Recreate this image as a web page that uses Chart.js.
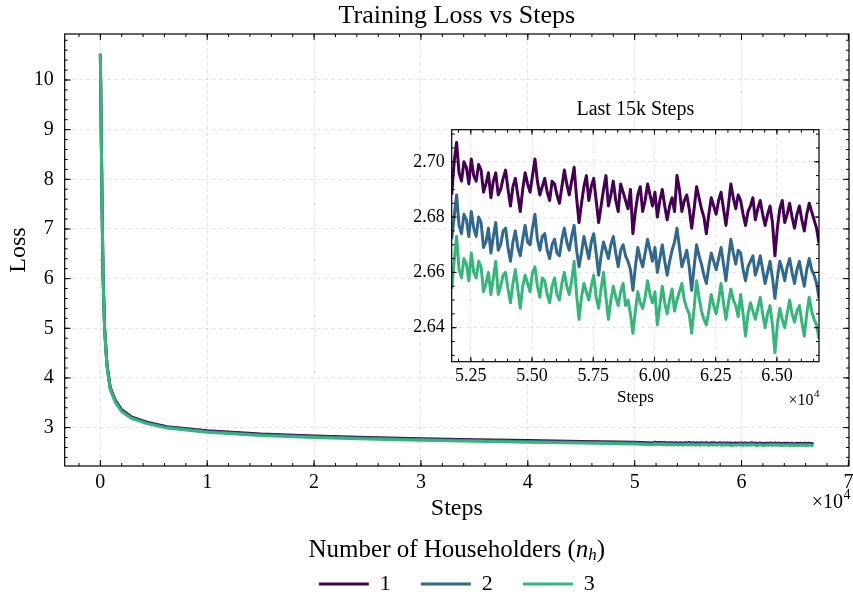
<!DOCTYPE html>
<html>
<head>
<meta charset="utf-8">
<script src="https://cdn.jsdelivr.net/npm/chart.js@4.4.1/dist/chart.umd.min.js"></script>
<style>
  html, body { margin: 0; padding: 0; background: #fff; }
  #wrap { position: relative; width: 853px; height: 596px; }
  #main { position: absolute; left: 0; top: 0; }
  #inset { position: absolute; left: 400px; top: 90px; }
</style>
</head>
<body>
<div id="wrap">
  <canvas id="main" width="853" height="596"></canvas>
  <canvas id="inset" width="453" height="330"></canvas>
</div>
<script>
// Séries : nombre de householders (n_h)
const householders = ['1', '2', '3'];
const colors = ['#440154', '#31688e', '#35b779'];

// Début de l'entraînement (décroissance rapide)
const earlySteps = [0, 150, 250, 400, 620, 930, 1400, 2000, 2960, 4360, 6230, 10000, 15000, 20000, 25000, 30000, 35000, 40000, 45000, 50000];
const earlyLoss1 = [10.53, 7.70, 6.10, 5.00, 4.27, 3.80, 3.55, 3.36, 3.21, 3.11, 3.02, 2.935, 2.87, 2.83, 2.80, 2.775, 2.755, 2.738, 2.722, 2.704];
const earlyLoss2 = [10.53, 7.68, 6.08, 4.98, 4.25, 3.78, 3.53, 3.34, 3.195, 3.095, 3.005, 2.92, 2.855, 2.815, 2.785, 2.76, 2.74, 2.722, 2.707, 2.688];
const earlyLoss3 = [10.52, 7.66, 6.06, 4.96, 4.23, 3.76, 3.51, 3.32, 3.18, 3.08, 2.99, 2.905, 2.84, 2.80, 2.77, 2.745, 2.725, 2.707, 2.692, 2.672];

// Derniers 15k steps (zoom)
const tailSteps = [
  51720, 51820, 51920, 52020, 52120, 52220, 52320, 52420, 52520, 52620,
  52720, 52820, 52920, 53020, 53120, 53220, 53320, 53420, 53520, 53620,
  53720, 53820, 53920, 54020, 54120, 54220, 54320, 54420, 54520, 54620,
  54720, 54820, 54920, 55020, 55120, 55220, 55320, 55420, 55520, 55620,
  55720, 55820, 55920, 56020, 56120, 56220, 56320, 56420, 56520, 56620,
  56720, 56820, 56920, 57020, 57120, 57220, 57320, 57420, 57520, 57620,
  57720, 57820, 57920, 58020, 58120, 58220, 58320, 58420, 58520, 58620,
  58720, 58820, 58920, 59020, 59120, 59220, 59320, 59420, 59520, 59620,
  59720, 59820, 59920, 60020, 60120, 60220, 60320, 60420, 60520, 60620,
  60720, 60820, 60920, 61020, 61120, 61220, 61320, 61420, 61520, 61620,
  61720, 61820, 61920, 62020, 62120, 62220, 62320, 62420, 62520, 62620,
  62720, 62820, 62920, 63020, 63120, 63220, 63320, 63420, 63520, 63620,
  63720, 63820, 63920, 64020, 64120, 64220, 64320, 64420, 64520, 64620,
  64720, 64820, 64920, 65020, 65120, 65220, 65320, 65420, 65520, 65620,
  65720, 65820, 65920, 66020, 66120, 66220, 66320, 66420, 66520, 66620,
  66720];
const tailLoss1 = [
  2.688, 2.700, 2.707, 2.696, 2.693, 2.700, 2.698, 2.692, 2.701, 2.695,
  2.693, 2.699, 2.697, 2.689, 2.692, 2.696, 2.687, 2.693, 2.696, 2.688,
  2.690, 2.694, 2.697, 2.690, 2.684, 2.691, 2.694, 2.688, 2.682, 2.690,
  2.696, 2.692, 2.689, 2.695, 2.701, 2.693, 2.688, 2.691, 2.694, 2.689,
  2.686, 2.693, 2.692, 2.688, 2.685, 2.691, 2.697, 2.692, 2.688, 2.693,
  2.698, 2.687, 2.678, 2.685, 2.691, 2.695, 2.686, 2.691, 2.694, 2.686,
  2.678, 2.684, 2.690, 2.695, 2.684, 2.688, 2.693, 2.686, 2.682, 2.692,
  2.689, 2.686, 2.683, 2.690, 2.674, 2.682, 2.688, 2.691, 2.682, 2.686,
  2.692, 2.688, 2.684, 2.689, 2.680, 2.686, 2.690, 2.684, 2.679, 2.684,
  2.687, 2.682, 2.695, 2.690, 2.682, 2.686, 2.688, 2.683, 2.676, 2.683,
  2.691, 2.687, 2.683, 2.680, 2.674, 2.681, 2.687, 2.684, 2.681, 2.686,
  2.689, 2.683, 2.677, 2.684, 2.692, 2.687, 2.683, 2.688, 2.686, 2.681,
  2.677, 2.682, 2.684, 2.687, 2.679, 2.683, 2.686, 2.681, 2.677, 2.681,
  2.684, 2.678, 2.666, 2.676, 2.683, 2.686, 2.678, 2.681, 2.685, 2.680,
  2.676, 2.681, 2.684, 2.679, 2.675, 2.681, 2.685, 2.682, 2.679, 2.676,
  2.6705];
const tailLoss2 = [
  2.672, 2.680, 2.688, 2.677, 2.674, 2.681, 2.679, 2.673, 2.682, 2.676,
  2.673, 2.680, 2.678, 2.669, 2.671, 2.676, 2.667, 2.673, 2.678, 2.668,
  2.670, 2.675, 2.676, 2.669, 2.664, 2.671, 2.675, 2.669, 2.666, 2.672,
  2.677, 2.671, 2.670, 2.676, 2.681, 2.672, 2.668, 2.673, 2.674, 2.668,
  2.665, 2.670, 2.672, 2.667, 2.666, 2.672, 2.676, 2.671, 2.668, 2.673,
  2.677, 2.668, 2.662, 2.667, 2.673, 2.669, 2.665, 2.671, 2.674, 2.667,
  2.659, 2.666, 2.671, 2.668, 2.665, 2.670, 2.673, 2.667, 2.662, 2.668,
  2.670, 2.666, 2.664, 2.661, 2.6535, 2.662, 2.669, 2.665, 2.662, 2.667,
  2.672, 2.668, 2.664, 2.669, 2.660, 2.665, 2.670, 2.664, 2.659, 2.664,
  2.668, 2.671, 2.676, 2.669, 2.662, 2.665, 2.668, 2.662, 2.6535, 2.662,
  2.670, 2.666, 2.663, 2.659, 2.656, 2.662, 2.667, 2.664, 2.661, 2.665,
  2.669, 2.663, 2.657, 2.665, 2.672, 2.667, 2.663, 2.668, 2.667, 2.661,
  2.657, 2.662, 2.664, 2.666, 2.659, 2.662, 2.666, 2.661, 2.656, 2.660,
  2.664, 2.658, 2.6506, 2.658, 2.664, 2.661, 2.657, 2.662, 2.665, 2.660,
  2.656, 2.661, 2.664, 2.659, 2.655, 2.661, 2.665, 2.661, 2.659, 2.656,
  2.6506];
const tailLoss3 = [
  2.654, 2.664, 2.673, 2.661, 2.658, 2.665, 2.663, 2.657, 2.667, 2.660,
  2.658, 2.664, 2.662, 2.653, 2.656, 2.660, 2.652, 2.658, 2.664, 2.652,
  2.655, 2.659, 2.660, 2.654, 2.649, 2.656, 2.661, 2.654, 2.647, 2.655,
  2.659, 2.656, 2.653, 2.660, 2.662, 2.655, 2.651, 2.658, 2.657, 2.652,
  2.649, 2.655, 2.658, 2.652, 2.650, 2.656, 2.660, 2.655, 2.652, 2.657,
  2.664, 2.652, 2.643, 2.651, 2.656, 2.653, 2.650, 2.655, 2.659, 2.651,
  2.647, 2.654, 2.660, 2.651, 2.643, 2.650, 2.655, 2.651, 2.648, 2.653,
  2.656, 2.648, 2.650, 2.645, 2.638, 2.646, 2.653, 2.649, 2.647, 2.651,
  2.657, 2.652, 2.649, 2.653, 2.641, 2.648, 2.655, 2.649, 2.645, 2.650,
  2.654, 2.646, 2.650, 2.653, 2.656, 2.650, 2.647, 2.645, 2.638, 2.647,
  2.657, 2.651, 2.646, 2.643, 2.641, 2.646, 2.652, 2.648, 2.645, 2.650,
  2.656, 2.649, 2.643, 2.649, 2.654, 2.650, 2.648, 2.644, 2.652, 2.645,
  2.637, 2.645, 2.649, 2.646, 2.643, 2.647, 2.651, 2.645, 2.640, 2.645,
  2.648, 2.641, 2.631, 2.641, 2.647, 2.643, 2.640, 2.645, 2.650, 2.645,
  2.642, 2.646, 2.648, 2.642, 2.637, 2.645, 2.651, 2.646, 2.643, 2.641,
  2.636];

// Graduations
const mainXTicks = [0, 10000, 20000, 30000, 40000, 50000, 60000, 70000];
const mainYTicks = [3, 4, 5, 6, 7, 8, 9, 10];
const insetXTicks = [52500, 55000, 57500, 60000, 62500, 65000];
const insetYTicks = [2.64, 2.66, 2.68, 2.70];

const serif = "'Liberation Serif', 'Times New Roman', serif";
Chart.defaults.font.family = serif;
Chart.defaults.color = '#000';

function toPoints(xs, ys) {
  return xs.map((x, i) => ({ x: x, y: ys[i] }));
}

const fullSteps = earlySteps.concat(tailSteps);
const fullLoss = [
  earlyLoss1.concat(tailLoss1),
  earlyLoss2.concat(tailLoss2),
  earlyLoss3.concat(tailLoss3)
];
const tailLoss = [tailLoss1, tailLoss2, tailLoss3];

const gridColor = 'rgba(0,0,0,0.13)';

// Cadre + graduations vers l'intérieur (style matplotlib)
const axisFrame = {
  id: 'axisFrame',
  beforeDraw(chart, args, opts) {
    if (!opts.fill) return;
    const a = chart.chartArea, ctx = chart.ctx;
    ctx.save();
    ctx.fillStyle = opts.fill;
    ctx.fillRect(a.left, a.top, a.right - a.left, a.bottom - a.top);
    ctx.restore();
  },
  afterDatasetsDraw(chart, args, opts) {
    const { ctx, chartArea: a, scales: { x, y } } = chart;
    ctx.save();
    ctx.strokeStyle = '#000';
    ctx.lineWidth = 1;
    ctx.beginPath();
    const tick = (px, isX, len) => {
      if (isX) {
        ctx.moveTo(px, a.bottom); ctx.lineTo(px, a.bottom - len);
        ctx.moveTo(px, a.top); ctx.lineTo(px, a.top + len);
      } else {
        ctx.moveTo(a.left, px); ctx.lineTo(a.left + len, px);
        ctx.moveTo(a.right, px); ctx.lineTo(a.right - len, px);
      }
    };
    for (let k = Math.ceil(x.min / opts.xMinor); k * opts.xMinor <= x.max; k++) {
      tick(x.getPixelForValue(k * opts.xMinor), true, opts.minorLen);
    }
    for (let k = Math.ceil(y.min / opts.yMinor - 1e-6); k * opts.yMinor <= y.max; k++) {
      tick(y.getPixelForValue(k * opts.yMinor), false, opts.minorLen);
    }
    x.ticks.forEach(t => tick(x.getPixelForValue(t.value), true, opts.majorLen));
    y.ticks.forEach(t => tick(y.getPixelForValue(t.value), false, opts.majorLen));
    ctx.stroke();
    ctx.lineWidth = 1.2;
    ctx.strokeRect(a.left, a.top, a.right - a.left, a.bottom - a.top);
    ctx.restore();
  }
};

// Texte "×10^4" et titre de légende avec n_h en italique
function drawOffset(ctx, right, cy, size) {
  ctx.save();
  ctx.fillStyle = '#000';
  ctx.textBaseline = 'middle';
  ctx.textAlign = 'left';
  ctx.font = size + 'px ' + serif;
  const w1 = ctx.measureText('\u00d710').width;
  const supSize = Math.round(size * 0.7);
  ctx.font = supSize + 'px ' + serif;
  const w2 = ctx.measureText('4').width;
  const x0 = right - w1 - w2;
  ctx.font = size + 'px ' + serif;
  ctx.fillText('\u00d710', x0, cy);
  ctx.font = supSize + 'px ' + serif;
  ctx.fillText('4', x0 + w1 + 0.5, cy - size * 0.4);
  ctx.restore();
}

const mainText = {
  id: 'mainText',
  afterDraw(chart) {
    const ctx = chart.ctx, a = chart.chartArea;
    drawOffset(ctx, a.right + 1, 503, 20);

    const size = 25, sub = 17;
    const parts = [
      { t: 'Number of Householders (', f: size + 'px ' + serif, dy: 0 },
      { t: 'n', f: 'italic ' + size + 'px ' + serif, dy: 0 },
      { t: 'h', f: 'italic ' + sub + 'px ' + serif, dy: 6 },
      { t: ')', f: size + 'px ' + serif, dy: 0 }
    ];
    ctx.save();
    ctx.fillStyle = '#000';
    ctx.textBaseline = 'middle';
    ctx.textAlign = 'left';
    let total = 0;
    parts.forEach(p => { ctx.font = p.f; p.w = ctx.measureText(p.t).width; total += p.w; });
    let x = (a.left + a.right) / 2 - total / 2;
    const cy = chart.legend.top + 26;
    parts.forEach(p => { ctx.font = p.f; ctx.fillText(p.t, x, cy + p.dy); x += p.w; });
    ctx.restore();
  }
};

const insetText = {
  id: 'insetText',
  afterDraw(chart) {
    drawOffset(chart.ctx, chart.chartArea.right, 311, 16);
  }
};

function makeDatasets(xs, series) {
  return householders.map((h, i) => ({
    label: h,
    data: toPoints(xs, series[i]),
    borderColor: colors[i],
    backgroundColor: colors[i],
    borderWidth: 3,
    borderJoinStyle: 'round',
    pointRadius: 0,
    tension: 0,
    order: 3 - i
  }));
}

// Graphique principal
new Chart(document.getElementById('main'), {
  type: 'line',
  data: { datasets: makeDatasets(fullSteps, fullLoss) },
  options: {
    responsive: false,
    animation: false,
    devicePixelRatio: 1,
    layout: { padding: { left: 0, right: 4, top: 0, bottom: 0 } },
    plugins: {
      title: {
        display: true, text: 'Training Loss vs Steps', fullSize: false,
        font: { size: 26, weight: 'normal' }, padding: { top: 1, bottom: 1.8 }
      },
      legend: {
        position: 'bottom', fullSize: false, maxHeight: 72,
        labels: {
          usePointStyle: true, pointStyle: 'line', pointStyleWidth: 50, padding: 30,
          font: { size: 22 }, color: '#000',
          sort: (a, b) => a.datasetIndex - b.datasetIndex
        },
        title: { display: true, text: ' ', font: { size: 10 }, padding: { top: 7, bottom: 0 } }
      },
      tooltip: { enabled: false },
      axisFrame: { xMinor: 2000, yMinor: 0.2, majorLen: 6, minorLen: 3 }
    },
    scales: {
      x: {
        type: 'linear', min: -3336, max: 70056,
        afterBuildTicks: s => { s.ticks = mainXTicks.map(v => ({ value: v })); },
        afterFit: s => { s.height = 58; s.paddingLeft = 0; s.paddingRight = 0; },
        ticks: { callback: v => String(v / 10000), font: { size: 20 }, padding: 5, maxRotation: 0, autoSkip: false },
        grid: { color: gridColor, lineWidth: 0.8, drawTicks: false },
        border: { display: false, dash: [4, 3] },
        title: { display: true, text: 'Steps', font: { size: 24 }, padding: { top: 0, bottom: 1 } }
      },
      y: {
        type: 'linear', min: 2.227, max: 10.926,
        afterBuildTicks: s => { s.ticks = mainYTicks.map(v => ({ value: v })); },
        afterFit: s => { s.width = 64.7; s.paddingTop = 0; s.paddingBottom = 0; },
        ticks: { callback: v => String(v), font: { size: 20 }, padding: 11, autoSkip: false },
        grid: { color: gridColor, lineWidth: 0.8, drawTicks: false },
        border: { display: false, dash: [4, 3] },
        title: { display: true, text: 'Loss', font: { size: 24 }, padding: { top: 4, bottom: 0 } }
      }
    }
  },
  plugins: [axisFrame, mainText]
});

// Encart : derniers 15k steps
new Chart(document.getElementById('inset'), {
  type: 'line',
  data: { datasets: makeDatasets(tailSteps, tailLoss) },
  options: {
    responsive: false,
    animation: false,
    devicePixelRatio: 1,
    layout: { padding: { left: 0, right: 34, top: 0, bottom: 10.3 } },
    plugins: {
      title: {
        display: true, text: 'Last 15k Steps', fullSize: false,
        font: { size: 20, weight: 'normal' }, padding: { top: 8, bottom: 7.7 }
      },
      legend: { display: false },
      tooltip: { enabled: false },
      axisFrame: { fill: '#fff', xMinor: 500, yMinor: 0.005, majorLen: 5, minorLen: 3 }
    },
    scales: {
      x: {
        type: 'linear', min: 51720, max: 66720,
        afterBuildTicks: s => { s.ticks = insetXTicks.map(v => ({ value: v })); },
        afterFit: s => { s.height = 48; s.paddingLeft = 0; s.paddingRight = 0; },
        ticks: { callback: v => (v / 10000).toFixed(2), font: { size: 18 }, padding: 4, maxRotation: 0, autoSkip: false },
        grid: { color: gridColor, lineWidth: 0.8, drawTicks: false },
        border: { display: false, dash: [4, 3] },
        title: { display: true, text: 'Steps', font: { size: 17 }, padding: { top: 0, bottom: 1.8 } }
      },
      y: {
        type: 'linear', min: 2.6277, max: 2.7116,
        afterBuildTicks: s => { s.ticks = insetYTicks.map(v => ({ value: v })); },
        afterFit: s => { s.width = 51.7; s.paddingTop = 0; s.paddingBottom = 0; },
        ticks: { callback: v => v.toFixed(2), font: { size: 18 }, padding: 7, autoSkip: false },
        grid: { color: gridColor, lineWidth: 0.8, drawTicks: false },
        border: { display: false, dash: [4, 3] }
      }
    }
  },
  plugins: [axisFrame, insetText]
});
</script>
</body>
</html>
